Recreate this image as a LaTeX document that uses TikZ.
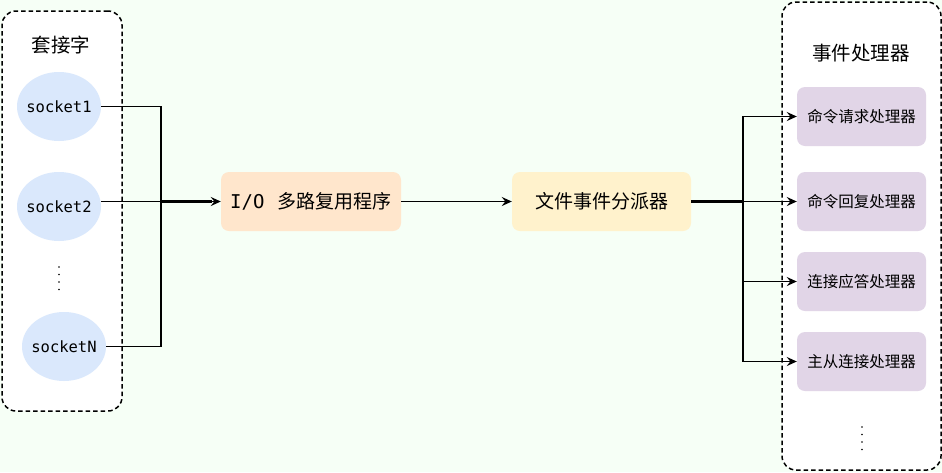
\documentclass[tikz,border=0pt]{standalone}
\usepackage{fontspec}
\setmainfont{Noto Sans CJK SC}
\newfontfamily\monofnt{DejaVu Sans Mono}
\usetikzlibrary{arrows.meta,shapes.geometric}
\definecolor{bgc}{HTML}{F6FFF6}
\definecolor{sockc}{HTML}{DAE8FC}
\definecolor{ioc}{HTML}{FFE6CC}
\definecolor{dispc}{HTML}{FFF2CC}
\definecolor{handc}{HTML}{E1D5E7}
\tikzset{
  groupbox/.style={draw=black, fill=white, dashed, dash pattern=on 4.5pt off 3pt, line width=1.5pt, rounded corners=14pt, inner sep=0pt},
  sockbox/.style={ellipse, fill=sockc, draw=none, minimum width=84pt, minimum height=69pt, inner ysep=0pt, inner xsep=-12pt, font=\monofnt\fontsize{15.5}{18}\selectfont},
  mainbox/.style={rectangle, rounded corners=8pt, draw=none, minimum width=180pt, minimum height=59pt, inner sep=0pt, font=\fontsize{19}{22}\selectfont},
  handbox/.style={rectangle, rounded corners=8pt, fill=handc, draw=none, minimum width=129pt, minimum height=59pt, inner sep=0pt, font=\fontsize{15.5}{18}\selectfont},
  titletext/.style={font=\fontsize{19.5}{22}\selectfont, inner sep=0pt},
  conn/.style={draw=black, line width=1.7pt},
  arr/.style={conn, -{Stealth[length=10pt,width=9pt,inset=3.5pt]}},
  dotline/.style={draw=black, line width=1.8pt, line cap=round, dash pattern=on 0pt off 7.5pt}
}
\begin{document}
\begin{tikzpicture}[x=1pt,y=-1pt]
\useasboundingbox (0,0) rectangle (942,472);
\fill[bgc] (0,0) rectangle (942,472);
% groups
\node[groupbox, minimum width=120pt, minimum height=400pt] (lg) at (62,211) {};
\node[groupbox, minimum width=159pt, minimum height=468pt] (rg) at (861.5,236) {};
\node[titletext] (lt) at (61,45) {套接字};
\node[titletext] (rt) at (861,53) {事件处理器};
% sockets
\node[sockbox] (s1) at (59,106.5) {socket1};
\node[sockbox] (s2) at (59,206.5) {socket2};
\node[sockbox] (sN) at (64,346.5) {socketN};
\coordinate (ld1) at (59,267);
\coordinate (ld2) at (59,291);
\draw[dotline] (ld1) -- (ld2);
% main boxes
\node[mainbox, fill=ioc] (io) at (311,201.5) {{\monofnt I/O}\hspace{0.7em}多路复用程序};
\node[mainbox, fill=dispc, minimum width=179pt] (disp) at (601.5,201.5) {文件事件分派器};
% handlers
\node[handbox] (h1) at (861.5,116.5) {命令请求处理器};
\node[handbox] (h2) at (861.5,201.5) {命令回复处理器};
\node[handbox] (h3) at (861.5,281.5) {连接应答处理器};
\node[handbox] (h4) at (861.5,361.5) {主从连接处理器};
\coordinate (rd1) at (862,427);
\coordinate (rd2) at (862,451);
\draw[dotline] (rd1) -- (rd2);
% junctions
\coordinate (j) at (161,201.5);
\coordinate (k) at (743,201.5);
% connectors
\draw[conn] (s1.east) -| (j);
\draw[conn] (sN.east) -| (j);
\draw[arr] (io.west -| s2.east) -- (io.west);
\draw[conn, line width=2.4pt] (j) -- ([xshift=-9pt]io.west);
\draw[arr] (io.east) -- (disp.west);
\draw[conn, line width=2.8pt] (disp.east) -- (k);
\draw[arr] (k) |- (h1.west);
\draw[arr] (k) -- (h2.west);
\draw[arr] (k) |- (h3.west);
\draw[arr] (k) |- (h4.west);
\end{tikzpicture}
\end{document}
